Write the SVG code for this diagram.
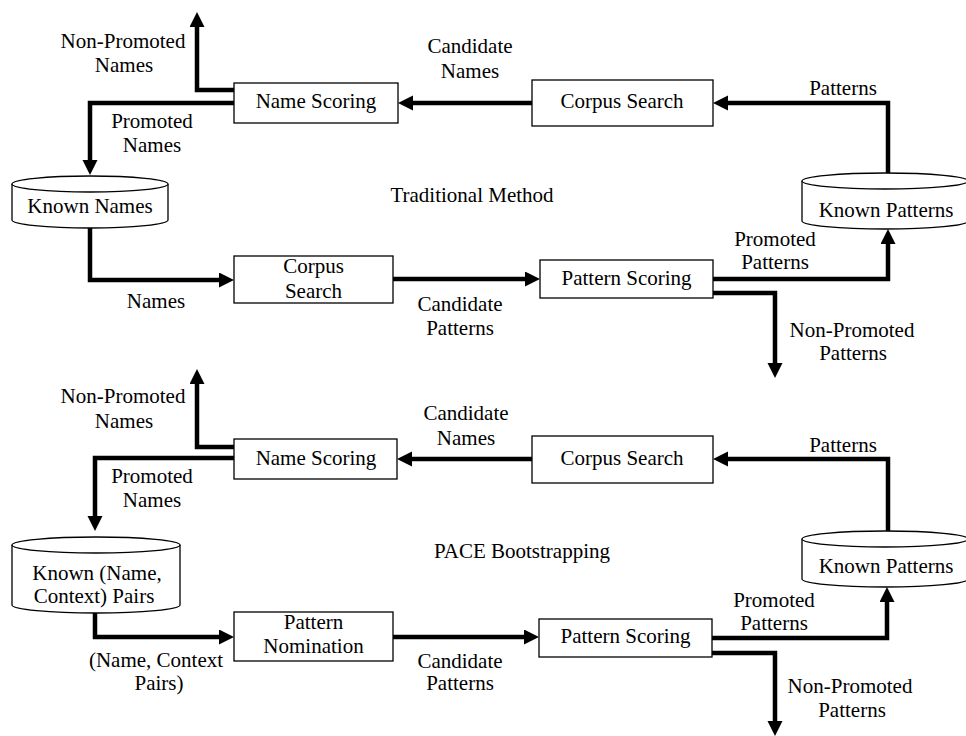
<svg xmlns="http://www.w3.org/2000/svg" width="966" height="736" viewBox="0 0 966 736">
<style>
text{font-family:"Liberation Serif","Times New Roman",serif;font-size:21px;fill:#000;text-anchor:middle}
.box{fill:#fff;stroke:#000;stroke-width:1.3}
.cyl{fill:#fff;stroke:#000;stroke-width:1.3}
.conn{fill:none;stroke:#000;stroke-width:4.5;stroke-linejoin:miter;marker-end:url(#ah)}
</style>
<defs>
<marker id="ah" markerUnits="userSpaceOnUse" markerWidth="16" markerHeight="16" refX="7" refY="7.5" orient="auto">
<path d="M0,0 L15,7.5 L0,15 z" fill="#000"/>
</marker>
</defs>
<rect width="966" height="736" fill="#fff"/>

<g id="connectors">
<path class="conn" d="M234,90 H197 V20"/>
<path class="conn" d="M234,103 H90 V167"/>
<path class="conn" d="M532,103 H406"/>
<path class="conn" d="M888,173 V103 H721"/>
<path class="conn" d="M90,228 V280 H226"/>
<path class="conn" d="M393,279 H532"/>
<path class="conn" d="M713,279 H888 V237"/>
<path class="conn" d="M713,293 H775 V370"/>

<path class="conn" d="M234,447 H197 V377"/>
<path class="conn" d="M234,458 H95 V523"/>
<path class="conn" d="M532,459 H405"/>
<path class="conn" d="M888,531 V459 H721"/>
<path class="conn" d="M95,613 V637 H226"/>
<path class="conn" d="M392,637 H531"/>
<path class="conn" d="M712,638 H887 V595"/>
<path class="conn" d="M712,653 H775 V728"/>
</g>

<g id="labels">
<text x="123" y="48">Non-Promoted</text><text x="124" y="72">Names</text>
<text x="152" y="128">Promoted</text><text x="152" y="152">Names</text>
<text x="470" y="53">Candidate</text><text x="470" y="78">Names</text>
<text x="843" y="95">Patterns</text>
<text x="472" y="202">Traditional Method</text>
<text x="156" y="308">Names</text>
<text x="460" y="311">Candidate</text><text x="460" y="335">Patterns</text>
<text x="775" y="246">Promoted</text><text x="775" y="269">Patterns</text>
<text x="852" y="337">Non-Promoted</text><text x="853" y="360">Patterns</text>

<text x="123" y="403">Non-Promoted</text><text x="124" y="428">Names</text>
<text x="152" y="483">Promoted</text><text x="152" y="507">Names</text>
<text x="466" y="420">Candidate</text><text x="466" y="445">Names</text>
<text x="843" y="452">Patterns</text>
<text x="522" y="558">PACE Bootstrapping</text>
<text x="156" y="667">(Name, Context</text><text x="159" y="690">Pairs)</text>
<text x="460" y="668">Candidate</text><text x="460" y="690">Patterns</text>
<text x="774" y="607">Promoted</text><text x="774" y="630">Patterns</text>
<text x="850" y="693">Non-Promoted</text><text x="852" y="717">Patterns</text>
</g>

<g id="t-name-scoring"><rect class="box" x="234" y="83" width="164" height="40"/><text x="316" y="108">Name Scoring</text></g>
<g id="t-corpus-search"><rect class="box" x="532" y="80" width="181" height="46"/><text x="622" y="108">Corpus Search</text></g>
<g id="t-known-names"><path class="cyl" d="M12,184 V220 A78,8 0 0 0 168,220 V184"/><ellipse class="cyl" cx="90" cy="184" rx="78" ry="8"/><text x="90" y="213">Known Names</text></g>
<g id="t-known-patterns"><path class="cyl" d="M802,181 V221 A83,8 0 0 0 968,221 V181"/><ellipse class="cyl" cx="885" cy="181" rx="83" ry="8"/><text x="886" y="217">Known Patterns</text></g>
<g id="t-corpus-search-2"><rect class="box" x="234" y="256" width="159" height="47"/><text x="313.5" y="273">Corpus</text><text x="313.5" y="298">Search</text></g>
<g id="t-pattern-scoring"><rect class="box" x="540" y="260" width="173" height="38"/><text x="626.5" y="285">Pattern Scoring</text></g>

<g id="b-name-scoring"><rect class="box" x="234" y="439" width="163" height="40"/><text x="316" y="465">Name Scoring</text></g>
<g id="b-corpus-search"><rect class="box" x="532" y="436" width="181" height="47"/><text x="622" y="465">Corpus Search</text></g>
<g id="b-known-pairs"><path class="cyl" d="M12,545 V605 A84,8 0 0 0 180,605 V545"/><ellipse class="cyl" cx="96" cy="545" rx="84" ry="8"/><text x="97" y="580">Known (Name,</text><text x="94" y="603">Context) Pairs</text></g>
<g id="b-known-patterns"><path class="cyl" d="M802,539 V579 A83,8 0 0 0 968,579 V539"/><ellipse class="cyl" cx="885" cy="539" rx="83" ry="8"/><text x="886" y="573">Known Patterns</text></g>
<g id="b-pattern-nomination"><rect class="box" x="234" y="612" width="159" height="49"/><text x="313.5" y="629">Pattern</text><text x="313.5" y="653">Nomination</text></g>
<g id="b-pattern-scoring"><rect class="box" x="539" y="619" width="173" height="38"/><text x="625.5" y="643">Pattern Scoring</text></g>
</svg>
